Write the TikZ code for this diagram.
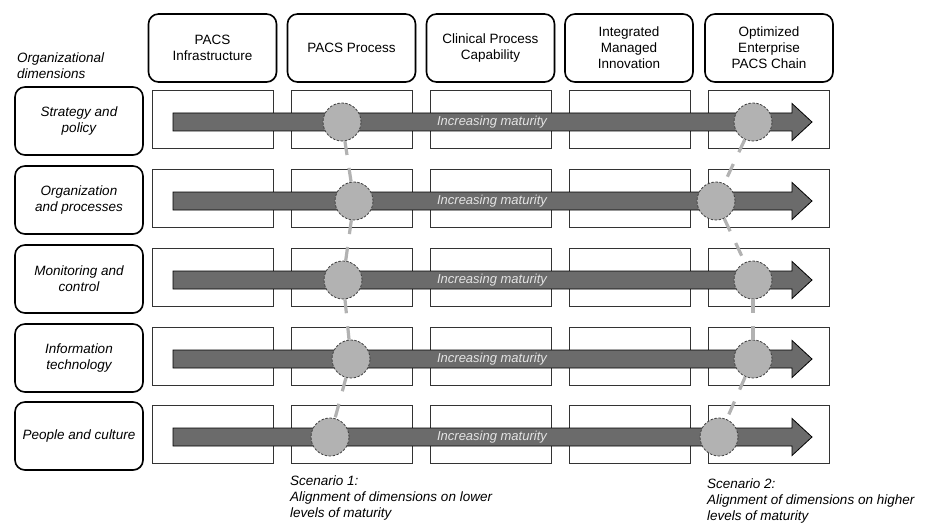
\documentclass[tikz,border=0pt]{standalone}
\usepackage{fontspec}
\setmainfont{Liberation Sans}
\usetikzlibrary{shadows}
\definecolor{arrowgray}{HTML}{6B6B6B}
\definecolor{dotgray}{HTML}{B2B2B2}
\definecolor{txtgray}{HTML}{E4E4E4}
\begin{document}
\begin{tikzpicture}[x=1pt,y=-1pt,
  hdr/.style={draw=black, line width=1.6pt, rounded corners=10pt, fill=white,
    minimum width=128pt, minimum height=68pt, align=center, inner sep=0pt,
    font=\fontsize{13.5}{16}\selectfont,
    drop shadow={shadow xshift=0.8pt,shadow yshift=-0.8pt,opacity=0.45}},
  rowlbl/.style={hdr, font=\fontsize{13.5}{16}\selectfont\itshape},
  cellbox/.style={draw=black!80, line width=0.8pt, fill=white, minimum width=121pt,
    minimum height=57.5pt, inner sep=0pt,
    drop shadow={shadow xshift=0.5pt,shadow yshift=-1pt,opacity=0.3}},
  matarrow/.style={draw=black, line width=0.8pt, fill=arrowgray},
  arrtext/.style={text=txtgray, font=\fontsize{13}{15}\selectfont\itshape, inner sep=0pt},
  dot/.style={circle, draw=black!75, dash pattern=on 2.5pt off 1.5pt, line width=0.8pt, fill=dotgray,
    minimum size=38pt, inner sep=0pt},
  conn/.style={draw=dotgray, line width=3.2pt, dash pattern=on 14pt off 13pt},
  note/.style={align=left, anchor=north west, inner sep=0pt,
    font=\fontsize{13.5}{16}\selectfont\itshape}
]
\useasboundingbox (0,0) rectangle (934,524);

% headers
\node[hdr] (h1) at (212.5,48) {PACS\\Infrastructure};
\node[hdr] (h2) at (351.5,48) {PACS Process};
\node[hdr] (h3) at (490.5,48) {Clinical Process\\Capability};
\node[hdr] (h4) at (629,48) {Integrated\\Managed\\Innovation};
\node[hdr] (h5) at (769,48) {Optimized\\Enterprise\\PACS Chain};

\node[note] (od) at (17,53) {Organizational\\dimensions};

% row labels
\node[rowlbl] (r1) at (79,121) {Strategy and\\policy};
\node[rowlbl] (r2) at (79,200) {Organization\\and processes};
\node[rowlbl] (r3) at (79,279) {Monitoring and\\control};
\node[rowlbl] (r4) at (79,358) {Information\\technology};
\node[rowlbl] (r5) at (79,436) {People and culture};

% cells and arrows
\foreach \r/\yc in {1/122,2/201,3/280,4/359,5/437}{
  \foreach \c/\xc in {1/212.5,2/352,3/490.5,4/629.5,5/768.5}{
    \node[cellbox] (c\r\c) at (\xc,\yc-2.75) {};
  }
  \draw[matarrow] (173,\yc-9) -- (792,\yc-9) -- (792,\yc-18.5) -- (812,\yc)
    -- (792,\yc+18.5) -- (792,\yc+9) -- (173,\yc+9) -- cycle;
  \node[arrtext] (t\r) at (492,\yc) {Increasing maturity};
}

% scenario circle positions
\path
  (342,122) coordinate (p11) (354,201) coordinate (p12) (343,280) coordinate (p13)
  (351,359) coordinate (p14) (330,437) coordinate (p15)
  (753,122) coordinate (p21) (716,201) coordinate (p22) (753,280) coordinate (p23)
  (753,359) coordinate (p24) (719,437) coordinate (p25);

\foreach \s in {1,2}{
  \foreach \r in {1,...,5}{
    \node[dot] (s\s\r) at (p\s\r) {};
  }
}
\foreach \s in {1,2}{
  \draw[conn] (s\s1) -- (s\s2);
  \draw[conn] (s\s2) -- (s\s3);
  \draw[conn] (s\s3) -- (s\s4);
  \draw[conn] (s\s4) -- (s\s5);
}

% scenario notes
\node[note] (n1) at (290,476) {Scenario 1:\\Alignment of dimensions on lower\\levels of maturity};
\node[note] (n2) at (707,479) {Scenario 2:\\Alignment of dimensions on higher\\levels of maturity};
\end{tikzpicture}
\end{document}
